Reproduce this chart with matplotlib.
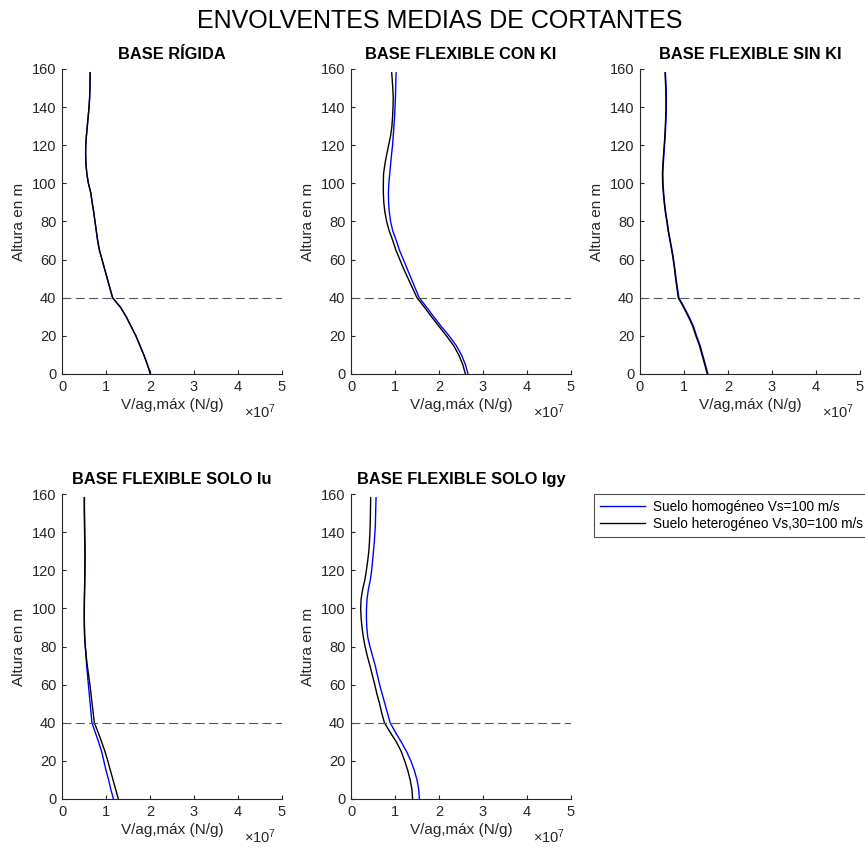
import matplotlib
matplotlib.use("Agg")
import matplotlib.pyplot as plt
from matplotlib.lines import Line2D

plt.rcParams['font.family'] = ['Liberation Sans', 'DejaVu Sans']
plt.rcParams['mathtext.fontset'] = 'custom'
plt.rcParams['mathtext.rm'] = 'Liberation Sans'

# Heights (m) and envelopes of mean shear V/ag,max (units of 1e7 N/g)
heights = [0, 5, 10, 15, 20, 25, 30, 35, 40, 45, 50, 55, 60, 65, 70, 75, 80,
           85, 90, 95, 100, 105, 110, 115, 120, 125, 130, 135, 140, 145, 150, 155, 158]

rigida_homo = [2.01, 1.94, 1.86, 1.77, 1.68, 1.57, 1.46, 1.33, 1.15, 1.09, 1.03, 0.97, 0.91,
               0.85, 0.81, 0.78, 0.75, 0.72, 0.685, 0.655, 0.60, 0.565, 0.545, 0.537, 0.54,
               0.555, 0.575, 0.595, 0.615, 0.628, 0.635, 0.638, 0.64]
rigida_het = [2.01, 1.94, 1.86, 1.77, 1.68, 1.57, 1.46, 1.33, 1.15, 1.09, 1.03, 0.97, 0.91,
              0.85, 0.81, 0.78, 0.75, 0.72, 0.685, 0.655, 0.60, 0.565, 0.545, 0.537, 0.54,
              0.555, 0.575, 0.595, 0.615, 0.628, 0.635, 0.638, 0.64]

conki_homo = [2.66, 2.60, 2.51, 2.39, 2.23, 2.05, 1.88, 1.72, 1.55, 1.46, 1.37, 1.28, 1.19,
              1.10, 1.03, 0.95, 0.90, 0.87, 0.855, 0.85, 0.86, 0.88, 0.90, 0.92, 0.945,
              0.96, 0.975, 0.99, 1.00, 1.01, 1.015, 1.02, 1.025]
conki_het = [2.60, 2.54, 2.45, 2.33, 2.17, 2.00, 1.83, 1.67, 1.50, 1.40, 1.30, 1.20, 1.11,
             1.02, 0.95, 0.87, 0.81, 0.77, 0.745, 0.735, 0.735, 0.74, 0.77, 0.81, 0.855,
             0.90, 0.93, 0.945, 0.955, 0.96, 0.95, 0.935, 0.925]

sinki_homo = [1.545, 1.485, 1.425, 1.365, 1.285, 1.215, 1.115, 1.005, 0.885, 0.85, 0.82,
              0.793, 0.763, 0.728, 0.688, 0.648, 0.618, 0.583, 0.558, 0.538, 0.523, 0.518,
              0.528, 0.543, 0.558, 0.573, 0.583, 0.593, 0.598, 0.598, 0.593, 0.583, 0.578]
sinki_het = [1.53, 1.47, 1.41, 1.35, 1.27, 1.20, 1.10, 0.99, 0.87, 0.84, 0.81, 0.785, 0.755,
             0.72, 0.68, 0.64, 0.61, 0.575, 0.55, 0.53, 0.515, 0.51, 0.52, 0.535, 0.55,
             0.565, 0.575, 0.585, 0.59, 0.59, 0.585, 0.575, 0.57]

iu_homo = [1.17, 1.11, 1.06, 1.00, 0.95, 0.90, 0.83, 0.755, 0.68, 0.66, 0.64, 0.62, 0.60,
           0.58, 0.56, 0.545, 0.53, 0.515, 0.51, 0.507, 0.508, 0.51, 0.515, 0.52, 0.523,
           0.525, 0.525, 0.522, 0.518, 0.515, 0.512, 0.51, 0.51]
iu_het = [1.28, 1.22, 1.16, 1.10, 1.04, 0.975, 0.90, 0.82, 0.735, 0.71, 0.685, 0.66, 0.635,
          0.605, 0.575, 0.55, 0.53, 0.515, 0.508, 0.505, 0.505, 0.508, 0.512, 0.516, 0.518,
          0.52, 0.52, 0.517, 0.513, 0.51, 0.507, 0.505, 0.505]

igy_homo = [1.555, 1.54, 1.50, 1.44, 1.36, 1.26, 1.14, 1.01, 0.89, 0.83, 0.77, 0.71, 0.65,
            0.60, 0.55, 0.49, 0.43, 0.38, 0.36, 0.35, 0.352, 0.365, 0.395, 0.44, 0.47,
            0.49, 0.51, 0.53, 0.545, 0.555, 0.56, 0.565, 0.57]
igy_het = [1.40, 1.385, 1.345, 1.29, 1.22, 1.14, 1.03, 0.89, 0.76, 0.70, 0.65, 0.59, 0.54,
           0.485, 0.43, 0.37, 0.32, 0.28, 0.25, 0.23, 0.22, 0.23, 0.265, 0.315, 0.35,
           0.38, 0.405, 0.42, 0.43, 0.437, 0.442, 0.445, 0.447]

titles = ["BASE RÍGIDA", "BASE FLEXIBLE CON KI", "BASE FLEXIBLE SIN KI",
          "BASE FLEXIBLE SOLO Iu", "BASE FLEXIBLE SOLO Igy"]
series = [(rigida_homo, rigida_het), (conki_homo, conki_het), (sinki_homo, sinki_het),
          (iu_homo, iu_het), (igy_homo, igy_het)]
legend_labels = ["Suelo homogéneo Vs=100 m/s", "Suelo heterogéneo Vs,30=100 m/s"]

x_ticks = [0, 1, 2, 3, 4, 5]
y_ticks = [0, 20, 40, 60, 80, 100, 120, 140, 160]
interface_height = 40

W, H = 865, 850
fig = plt.figure(figsize=(W / 100, H / 100), dpi=100)

ax_w, ax_h = 220 / W, 305 / H
lefts = [62 / W, 351 / W, 640 / W, 62 / W, 351 / W]
bottoms = [(H - 374) / H] * 3 + [(H - 799) / H] * 2

BLUE = "#0000ff"
DARK = "#262626"

for i in range(5):
    ax = fig.add_axes([lefts[i], bottoms[i], ax_w, ax_h])
    homo, het = series[i]
    ax.plot(homo, heights, color=BLUE, lw=1.0)
    ax.plot(het, heights, color="black", lw=1.0)
    ax.axhline(interface_height, color="#555555", lw=0.8, dashes=(8, 4))
    ax.set_xlim(0, 5)
    ax.set_ylim(0, 160)
    ax.set_xticks(x_ticks)
    ax.set_yticks(y_ticks)
    for s in ("top", "right"):
        ax.spines[s].set_visible(False)
    for s in ("left", "bottom"):
        ax.spines[s].set_color(DARK)
        ax.spines[s].set_linewidth(0.8)
    ax.tick_params(direction="in", length=3, width=0.8, colors=DARK,
                   labelsize=10.5, labelcolor=DARK, pad=4)
    ax.set_title(titles[i], fontsize=11.8, fontweight="bold", pad=7)
    ax.set_ylabel("Altura en m", fontsize=11, color=DARK, labelpad=4)
    ax.set_xlabel("V/ag,máx (N/g)", fontsize=11, color=DARK, labelpad=3)
    ax.text(0.9, -0.125, r"$\times\mathregular{10^{7}}$", transform=ax.transAxes,
            fontsize=10.5, color=DARK, ha="center", va="center")

fig.text(440 / W, 1 - 21 / H, "ENVOLVENTES MEDIAS DE CORTANTES", ha="center", va="center",
         fontsize=18, color="black")

handles = [Line2D([], [], color=BLUE, lw=1.0), Line2D([], [], color="black", lw=1.0)]
leg = fig.legend(handles, legend_labels, loc="upper left",
                 bbox_to_anchor=(594 / W, 1 - 494 / H), fontsize=9.8,
                 frameon=True, fancybox=False, borderpad=0.45, handlelength=3.3,
                 labelspacing=0.2, handletextpad=0.6, borderaxespad=0)
leg.get_frame().set_edgecolor(DARK)
leg.get_frame().set_linewidth(0.8)

fig.savefig("out.png", dpi=100)
